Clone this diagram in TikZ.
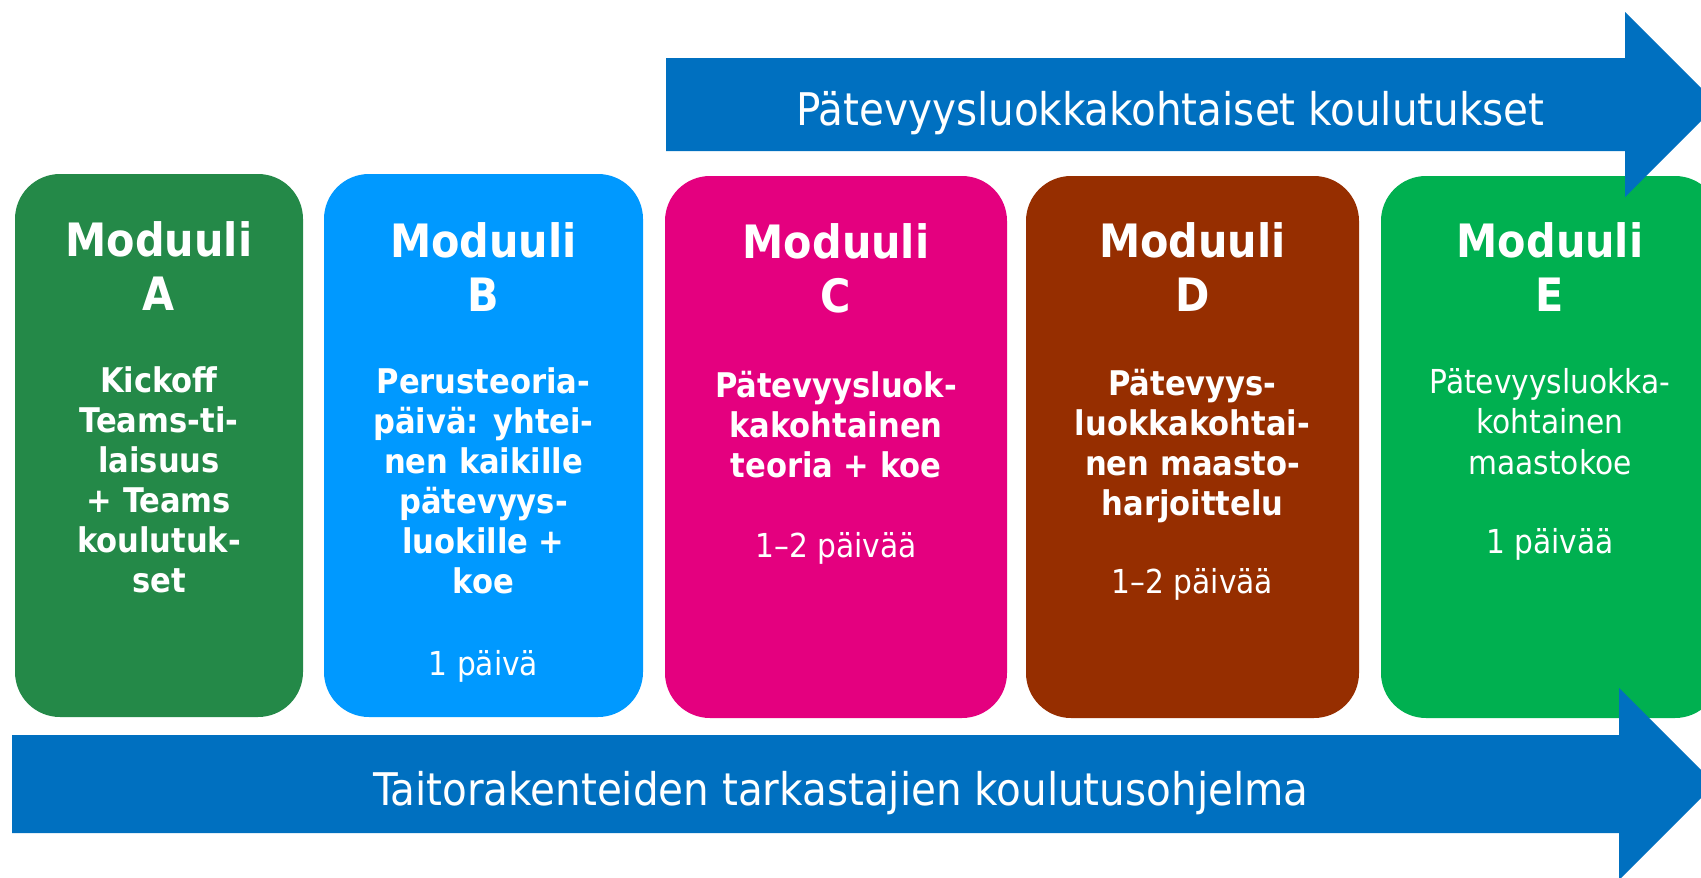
\documentclass[tikz,border=0pt]{standalone}
\usepackage{fontspec}
\setmainfont{DejaVu Sans Condensed}
\definecolor{cA}{RGB}{36,137,72}
\definecolor{cB}{RGB}{0,153,255}
\definecolor{cC}{RGB}{228,0,127}
\definecolor{cD}{RGB}{150,46,0}
\definecolor{cE}{RGB}{0,176,80}
\definecolor{cArrow}{RGB}{0,112,192}
\newcommand{\lines}[1]{\begin{tabular}[t]{@{}c@{}}#1\end{tabular}}
\tikzset{
  modbox/.style={rectangle, rounded corners=45pt, inner sep=0pt, outer sep=0pt},
  hdr/.style={anchor=base, inner sep=0pt, text=white, font=\bfseries\fontsize{46}{54}\selectfont},
  bodytxt/.style={anchor=base, inner sep=0pt, text=white, font=\bfseries\fontsize{34}{40}\selectfont},
  regtxt/.style={anchor=base, inner sep=0pt, text=white, font=\fontsize{33}{40.5}\selectfont},
  arrowtxt/.style={anchor=base, inner sep=0pt, text=white, font=\fontsize{45}{54}\selectfont},
  bigarrow/.style={fill=cArrow, draw=none}
}
\begin{document}
\begin{tikzpicture}[x=1pt,y=-1pt]
\useasboundingbox (0,0) rectangle (1701,878);
\clip (0,0) rectangle (1701,878);
\fill[white] (0,0) rectangle (1701,878);

% module boxes
\node[modbox, fill=cA, minimum width=288pt, minimum height=543pt] (boxA) at (159,445.5) {};
\node[modbox, fill=cB, minimum width=319pt, minimum height=543pt] (boxB) at (483.5,445.5) {};
\node[modbox, fill=cC, minimum width=342pt, minimum height=542pt] (boxC) at (836,447) {};
\node[modbox, fill=cD, minimum width=333pt, minimum height=542pt] (boxD) at (1192.5,447) {};
\node[modbox, fill=cE, minimum width=339pt, minimum height=542pt] (boxE) at (1550.5,447) {};

% headers
\node[hdr] (hA) at (159,256) {\lines{Moduuli\\A}};
\node[hdr] (hB) at (483.5,257) {\lines{Moduuli\\B}};
\node[hdr] (hC) at (836,258) {\lines{Moduuli\\C}};
\node[hdr] (hD) at (1192.5,257) {\lines{Moduuli\\D}};
\node[hdr] (hE) at (1550,257) {\lines{Moduuli\\E}};

% body texts
\node[bodytxt] (tA) at (159,392) {\lines{Kickoff\\Teams-ti-\\laisuus\\+ Teams\\koulutuk-\\set}};
\node[bodytxt] (tB) at (483.5,393) {\lines{Perusteoria-\\päivä: yhtei-\\nen kaikille\\pätevyys-\\luokille +\\koe}};
\node[bodytxt] (tC) at (836,397) {\lines{Pätevyysluok-\\kakohtainen\\teoria + koe}};
\node[bodytxt] (tD) at (1192.5,395) {\lines{Pätevyys-\\luokkakohtai-\\nen maasto-\\harjoittelu}};
\node[regtxt] (tE) at (1550,393) {\lines{Pätevyysluokka-\\kohtainen\\maastokoe}};

% durations
\node[regtxt] (dB) at (483.5,675) {1 päivä};
\node[regtxt] (dC) at (836,557) {1–2 päivää};
\node[regtxt] (dD) at (1192.5,593) {1–2 päivää};
\node[regtxt] (dE) at (1550,553) {1 päivää};

% top arrow
\fill[bigarrow] (666,58) -- (1625,58) -- (1625,12) -- (1717.5,104.5) -- (1625,197) -- (1625,151) -- (666,151) -- cycle;
\node[arrowtxt] (topTxt) at (1170.5,125) {Pätevyysluokkakohtaiset koulutukset};

% bottom arrow
\fill[bigarrow] (12,735) -- (1619,735) -- (1619,688) -- (1715,784) -- (1619,880) -- (1619,833) -- (12,833) -- cycle;
\node[arrowtxt] (botTxt) at (841,805) {Taitorakenteiden tarkastajien koulutusohjelma};
\end{tikzpicture}
\end{document}
